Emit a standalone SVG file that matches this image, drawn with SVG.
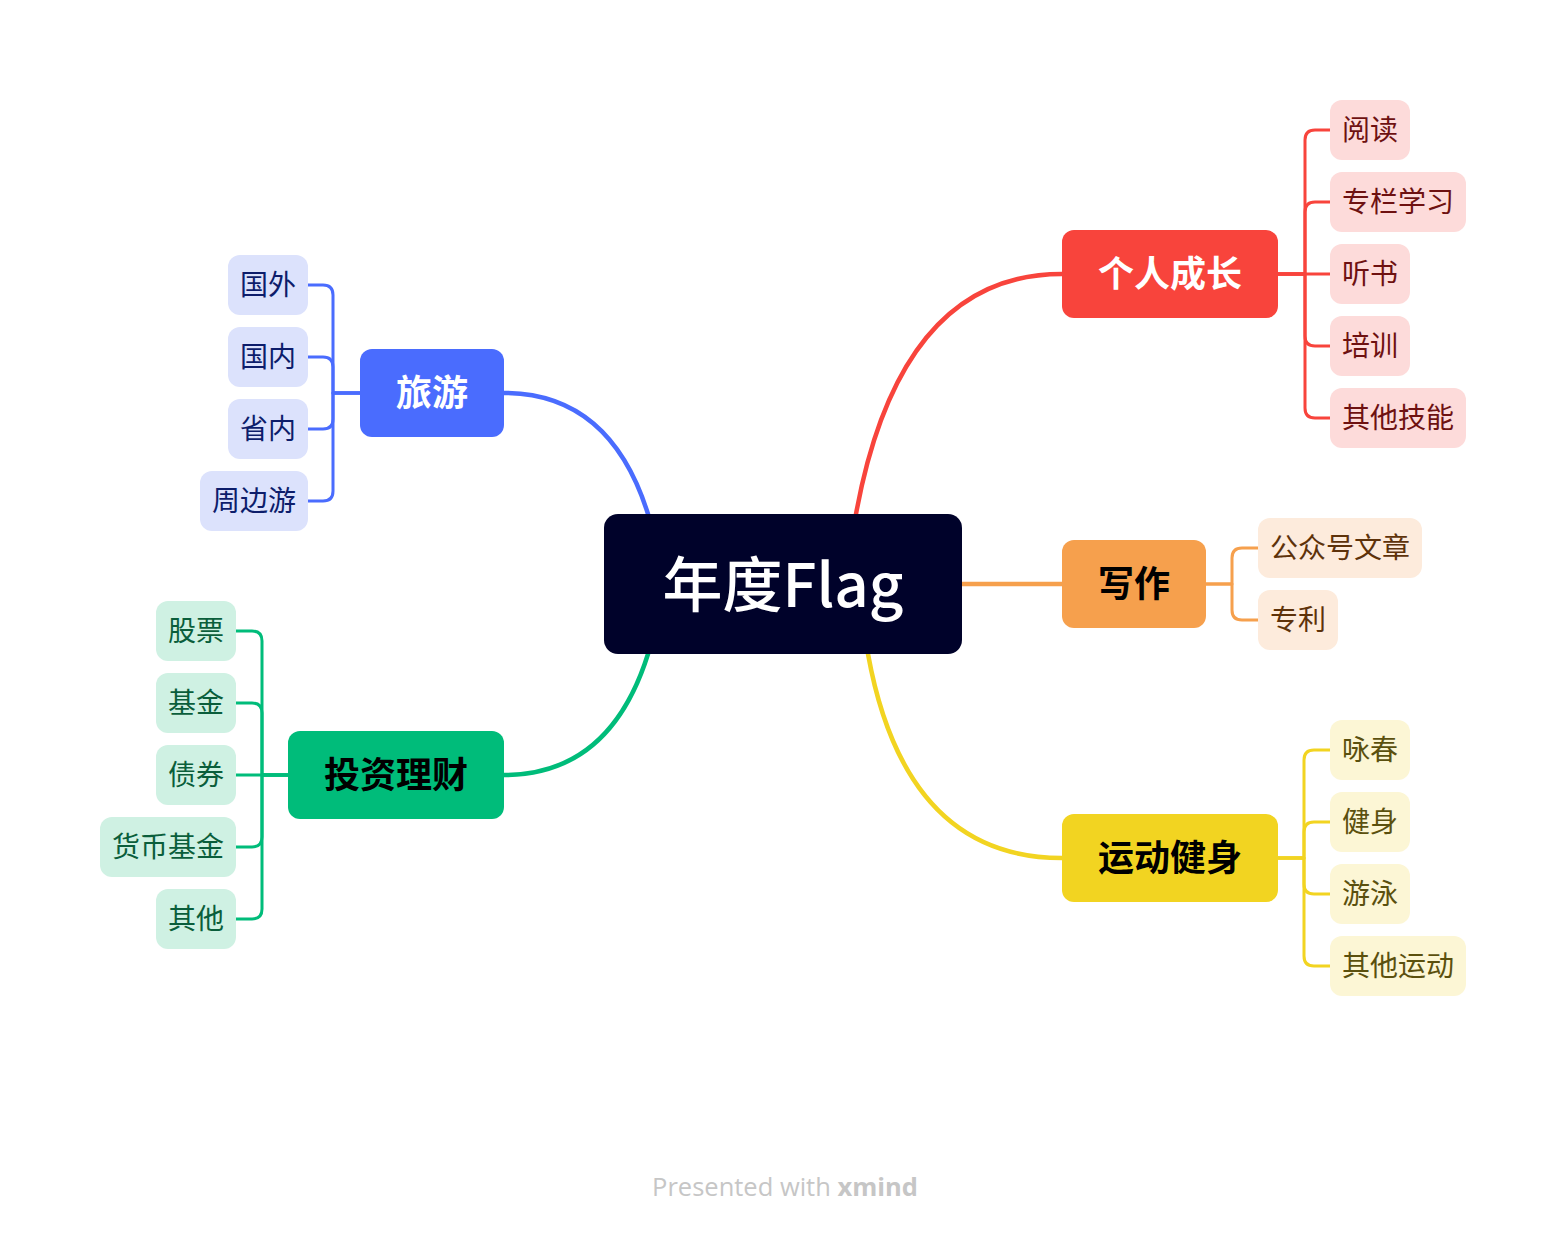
<svg xmlns="http://www.w3.org/2000/svg" width="1566" height="1236" viewBox="0 0 1566 1236">
<style>
text{font-family:"Noto Sans CJK SC","Noto Sans",sans-serif;text-anchor:middle;dominant-baseline:central}
.main{font-size:36px;font-weight:700}
.sub{font-size:28px}
.edge{fill:none;stroke-linecap:round;stroke-linejoin:round}
.m{stroke-width:4.5}
.c{stroke-width:3}
.red{stroke:#F8443C}.org{stroke:#F6A04D}.yel{stroke:#F2D421}.blu{stroke:#4A6CFE}.grn{stroke:#00BC7A}
.redb{fill:#FDDBDA}.redt{fill:#6E1111}
.orgb{fill:#FDEBDC}.orgt{fill:#5E320A}
.yelb{fill:#FCF6D5}.yelt{fill:#5B500E}
.blub{fill:#DCE2FC}.blut{fill:#0D1D6B}
.grnb{fill:#CFF1E3}.grnt{fill:#0A5E3B}
</style>
<rect width="1566" height="1236" fill="#FFFFFF"/>
<g id="connectors">
  <path class="edge m red" d="M 856 514 Q 900 274 1062 274"/>
  <path class="edge m org" d="M 962 584 H 1062"/>
  <path class="edge m yel" d="M 868 654 Q 905 858 1062 858"/>
  <path class="edge m blu" d="M 504 393 Q 610 393 648 514"/>
  <path class="edge m grn" d="M 504 775 Q 610 775 648 654"/>
  <path class="edge c red" d="M 1278 274 H 1305 V 140 Q 1305 130 1315 130 H 1330"/>
  <path class="edge c red" d="M 1278 274 H 1305 V 212 Q 1305 202 1315 202 H 1330"/>
  <path class="edge c red" d="M 1278 274 H 1330"/>
  <path class="edge c red" d="M 1278 274 H 1305 V 336 Q 1305 346 1315 346 H 1330"/>
  <path class="edge c red" d="M 1278 274 H 1305 V 408 Q 1305 418 1315 418 H 1330"/>
  <path class="edge c org" d="M 1206 584 H 1232 V 558 Q 1232 548 1242 548 H 1258"/>
  <path class="edge c org" d="M 1206 584 H 1232 V 610 Q 1232 620 1242 620 H 1258"/>
  <path class="edge c yel" d="M 1278 858 H 1304 V 760 Q 1304 750 1314 750 H 1330"/>
  <path class="edge c yel" d="M 1278 858 H 1304 V 832 Q 1304 822 1314 822 H 1330"/>
  <path class="edge c yel" d="M 1278 858 H 1304 V 884 Q 1304 894 1314 894 H 1330"/>
  <path class="edge c yel" d="M 1278 858 H 1304 V 956 Q 1304 966 1314 966 H 1330"/>
  <path class="edge c blu" d="M 360 393 H 333 V 295 Q 333 285 323 285 H 308"/>
  <path class="edge c blu" d="M 360 393 H 333 V 367 Q 333 357 323 357 H 308"/>
  <path class="edge c blu" d="M 360 393 H 333 V 419 Q 333 429 323 429 H 308"/>
  <path class="edge c blu" d="M 360 393 H 333 V 491 Q 333 501 323 501 H 308"/>
  <path class="edge c grn" d="M 288 775 H 262 V 641 Q 262 631 252 631 H 236"/>
  <path class="edge c grn" d="M 288 775 H 262 V 713 Q 262 703 252 703 H 236"/>
  <path class="edge c grn" d="M 288 775 H 236"/>
  <path class="edge c grn" d="M 288 775 H 262 V 837 Q 262 847 252 847 H 236"/>
  <path class="edge c grn" d="M 288 775 H 262 V 909 Q 262 919 252 919 H 236"/>
</g>
<g id="root">
  <rect x="604" y="514" width="358" height="140" rx="14" fill="#00022A"/>
  <text x="783" y="580" font-size="60" font-weight="500" fill="#FFFFFF">年度Flag</text>
</g>
<g id="growth">
  <rect x="1062" y="230" width="216" height="88" rx="12" fill="#F8443C"/>
  <text class="main" x="1170" y="271" fill="#FFFFFF">个人成长</text>
</g>
<g id="growth-1"><rect class="redb" x="1330" y="100" width="80" height="60" rx="12"/><text class="sub redt" x="1370" y="128">阅读</text></g>
<g id="growth-2"><rect class="redb" x="1330" y="172" width="136" height="60" rx="12"/><text class="sub redt" x="1398" y="200">专栏学习</text></g>
<g id="growth-3"><rect class="redb" x="1330" y="244" width="80" height="60" rx="12"/><text class="sub redt" x="1370" y="272">听书</text></g>
<g id="growth-4"><rect class="redb" x="1330" y="316" width="80" height="60" rx="12"/><text class="sub redt" x="1370" y="344">培训</text></g>
<g id="growth-5"><rect class="redb" x="1330" y="388" width="136" height="60" rx="12"/><text class="sub redt" x="1398" y="416">其他技能</text></g>
<g id="writing">
  <rect x="1062" y="540" width="144" height="88" rx="12" fill="#F6A04D"/>
  <text class="main" x="1134" y="581" fill="#000000">写作</text>
</g>
<g id="writing-1"><rect class="orgb" x="1258" y="518" width="164" height="60" rx="12"/><text class="sub orgt" x="1340" y="546">公众号文章</text></g>
<g id="writing-2"><rect class="orgb" x="1258" y="590" width="80" height="60" rx="12"/><text class="sub orgt" x="1298" y="618">专利</text></g>
<g id="sport">
  <rect x="1062" y="814" width="216" height="88" rx="12" fill="#F2D421"/>
  <text class="main" x="1170" y="855" fill="#000000">运动健身</text>
</g>
<g id="sport-1"><rect class="yelb" x="1330" y="720" width="80" height="60" rx="12"/><text class="sub yelt" x="1370" y="748">咏春</text></g>
<g id="sport-2"><rect class="yelb" x="1330" y="792" width="80" height="60" rx="12"/><text class="sub yelt" x="1370" y="820">健身</text></g>
<g id="sport-3"><rect class="yelb" x="1330" y="864" width="80" height="60" rx="12"/><text class="sub yelt" x="1370" y="892">游泳</text></g>
<g id="sport-4"><rect class="yelb" x="1330" y="936" width="136" height="60" rx="12"/><text class="sub yelt" x="1398" y="964">其他运动</text></g>
<g id="travel">
  <rect x="360" y="349" width="144" height="88" rx="12" fill="#4A6CFE"/>
  <text class="main" x="432" y="390" fill="#FFFFFF">旅游</text>
</g>
<g id="travel-1"><rect class="blub" x="228" y="255" width="80" height="60" rx="12"/><text class="sub blut" x="268" y="283">国外</text></g>
<g id="travel-2"><rect class="blub" x="228" y="327" width="80" height="60" rx="12"/><text class="sub blut" x="268" y="355">国内</text></g>
<g id="travel-3"><rect class="blub" x="228" y="399" width="80" height="60" rx="12"/><text class="sub blut" x="268" y="427">省内</text></g>
<g id="travel-4"><rect class="blub" x="200" y="471" width="108" height="60" rx="12"/><text class="sub blut" x="254" y="499">周边游</text></g>
<g id="finance">
  <rect x="288" y="731" width="216" height="88" rx="12" fill="#00BC7A"/>
  <text class="main" x="396" y="772" fill="#000000">投资理财</text>
</g>
<g id="finance-1"><rect class="grnb" x="156" y="601" width="80" height="60" rx="12"/><text class="sub grnt" x="196" y="629">股票</text></g>
<g id="finance-2"><rect class="grnb" x="156" y="673" width="80" height="60" rx="12"/><text class="sub grnt" x="196" y="701">基金</text></g>
<g id="finance-3"><rect class="grnb" x="156" y="745" width="80" height="60" rx="12"/><text class="sub grnt" x="196" y="773">债券</text></g>
<g id="finance-4"><rect class="grnb" x="100" y="817" width="136" height="60" rx="12"/><text class="sub grnt" x="168" y="845">货币基金</text></g>
<g id="finance-5"><rect class="grnb" x="156" y="889" width="80" height="60" rx="12"/><text class="sub grnt" x="196" y="917">其他</text></g>
<g id="footer">
  <text x="785" y="1186" font-size="25.5" fill="#C6C6C6" style="font-family:'Open Sans','Noto Sans',sans-serif">Presented with <tspan font-weight="700">xmind</tspan></text>
</g>
</svg>
